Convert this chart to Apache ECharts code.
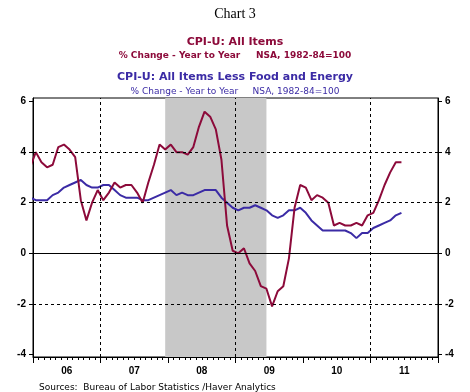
<!DOCTYPE html>
<html>
<head>
<meta charset="utf-8">
<script src="https://cdn.jsdelivr.net/npm/echarts@6/dist/echarts.min.js"></script>
<style>
html,body{margin:0;padding:0;background:#fff;}
#chart{width:470px;height:392px;}
</style>
</head>
<body>
<div id="chart"></div>
<script>
// Monthly data, Dec 2005 .. Jun 2011 (year-over-year % change)
const firstMonth = '2005-12';
const allItems = [3.4,
  4.0,3.6,3.4,3.5,4.2,4.3,4.1,3.8,2.1,1.3,2.0,2.5,
  2.1,2.4,2.8,2.6,2.7,2.7,2.4,2.0,2.8,3.5,4.3,4.1,
  4.3,4.0,4.0,3.9,4.2,5.0,5.6,5.4,4.9,3.7,1.1,0.1,
  0.0,0.2,-0.4,-0.7,-1.3,-1.4,-2.1,-1.5,-1.3,-0.2,1.8,2.7,
  2.6,2.1,2.3,2.2,2.0,1.1,1.2,1.1,1.1,1.2,1.1,1.5,
  1.6,2.1,2.7,3.2,3.6,3.6];
const lessFoodEnergy = [2.2,
  2.1,2.1,2.1,2.3,2.4,2.6,2.7,2.8,2.9,2.7,2.6,2.6,
  2.7,2.7,2.5,2.3,2.2,2.2,2.2,2.1,2.1,2.2,2.3,2.4,
  2.5,2.3,2.4,2.3,2.3,2.4,2.5,2.5,2.5,2.2,2.0,1.8,
  1.7,1.8,1.8,1.9,1.8,1.7,1.5,1.4,1.5,1.7,1.7,1.8,
  1.6,1.3,1.1,0.9,0.9,0.9,0.9,0.9,0.8,0.6,0.8,0.8,
  1.0,1.1,1.2,1.3,1.5,1.6];
const years = [2006, 2007, 2008, 2009, 2010, 2011];
const yearLabels = ['06', '07', '08', '09', '10', '11'];
const yTicks = [-4, -2, 0, 2, 4, 6];
const dashedY = [4, 2, -2];
const zeroY = [0];
const dashedYears = [2007, 2009, 2011];
const recession = ['2007-12', '2009-06'];

const baseYear = years[0];
function monthIndex(s) { const p = s.split('-'); return (+p[0] - baseYear) * 12 + (+p[1] - 1); }
const startIdx = monthIndex(firstMonth);
const toPts = arr => arr.map((v, i) => [startIdx + i + 0.5, v]);
const xMax = years.length * 12;
const yearTicks = [];
for (let i = 0; i <= years.length; i++) yearTicks.push(i * 12);
const monthTicks = [];
for (let i = 0; i <= xMax; i++) monthTicks.push(i);
const labelPos = years.map((y, i) => i * 12 + 6);

const red = '#8C0A3A', blue = '#3B2BA5';
const dash = [3, 3];
const sans = 'DejaVu Sans';
const chart = echarts.init(document.getElementById('chart'), null, {renderer: 'canvas'});
chart.setOption({
  animation: false,
  backgroundColor: '#fff',
  title: [
    {text: 'Chart 3', left: 'center', top: 2, textStyle: {fontFamily: 'Liberation Serif', fontSize: 14, fontWeight: 'normal', color: '#000'}},
    {text: 'CPI-U: All Items', left: 'center', top: 32, textStyle: {fontFamily: sans, fontSize: 11, fontWeight: 'bold', color: red}},
    {text: '% Change - Year to Year     NSA, 1982-84=100', left: 'center', top: 46, textStyle: {fontFamily: sans, fontSize: 9, fontWeight: 'bold', color: red}},
    {text: 'CPI-U: All Items Less Food and Energy', left: 'center', top: 67, textStyle: {fontFamily: sans, fontSize: 11, fontWeight: 'bold', color: blue}},
    {text: '% Change - Year to Year     NSA, 1982-84=100', left: 'center', top: 82, textStyle: {fontFamily: sans, fontSize: 9, fontWeight: 'normal', color: blue}},
    {text: 'Sources:  Bureau of Labor Statistics /Haver Analytics', left: 34, top: 378, textStyle: {fontFamily: sans, fontSize: 9, fontWeight: 'normal', color: '#000'}}
  ],
  grid: {left: 33, right: 32, top: 98, bottom: 35, show: true, borderColor: '#000', borderWidth: 1, backgroundColor: 'transparent'},
  xAxis: [
    {type: 'value', min: 0, max: xMax, position: 'bottom',
     axisLine: {show: true, onZero: false, lineStyle: {color: '#000', width: 1}},
     axisTick: {show: true, customValues: yearTicks, length: 6, lineStyle: {color: '#000'}},
     axisLabel: {show: true, customValues: labelPos, margin: 9, fontFamily: 'Liberation Sans', fontSize: 10, fontWeight: 'bold', color: '#000',
       formatter: v => yearLabels[Math.round((v - 6) / 12)]},
     splitLine: {show: false}},
    {type: 'value', min: 0, max: xMax, position: 'bottom',
     axisLine: {show: false, onZero: false},
     axisTick: {show: true, customValues: monthTicks, length: 3, lineStyle: {color: '#000'}},
     axisLabel: {show: false}, splitLine: {show: false}}
  ],
  yAxis: [
    {type: 'value', min: -4.1, max: 6.14, position: 'left',
     axisLine: {show: true, onZero: false, lineStyle: {color: '#000'}},
     axisTick: {show: true, customValues: yTicks, length: 4, lineStyle: {color: '#000'}},
     axisLabel: {customValues: yTicks, margin: 7, fontFamily: 'Liberation Sans', fontSize: 10, fontWeight: 'bold', color: '#000'},
     splitLine: {show: false}},
    {type: 'value', min: -4.1, max: 6.14, position: 'right',
     axisLine: {show: true, onZero: false, lineStyle: {color: '#000'}},
     axisTick: {show: true, customValues: yTicks, length: 4, lineStyle: {color: '#000'}},
     axisLabel: {customValues: yTicks, margin: 7, fontFamily: 'Liberation Sans', fontSize: 10, fontWeight: 'bold', color: '#000'},
     splitLine: {show: false}}
  ],
  series: [
    {type: 'line', data: [], z: 1, silent: true,
     markArea: {silent: true, itemStyle: {color: '#C8C8C8'},
       data: [[{xAxis: monthIndex(recession[0]) + 0.5}, {xAxis: monthIndex(recession[1]) + 0.5}]]}},
    {type: 'line', data: [], z: 2, silent: true,
     markLine: {silent: true, symbol: ['none', 'none'], label: {show: false}, animation: false,
       data: [].concat(
         dashedY.map(v => ({yAxis: v, lineStyle: {color: '#000', width: 1, type: dash}})),
         zeroY.map(v => ({yAxis: v, lineStyle: {color: '#000', width: 1, type: 'solid'}})),
         dashedYears.map(y => ({xAxis: (y - baseYear) * 12, lineStyle: {color: '#000', width: 1, type: dash}}))
       )}},
    {name: 'CPI-U: All Items Less Food and Energy', type: 'line', data: toPts(lessFoodEnergy), z: 3,
     showSymbol: false, lineStyle: {color: blue, width: 2}, clip: true},
    {name: 'CPI-U: All Items', type: 'line', data: toPts(allItems), z: 4,
     showSymbol: false, lineStyle: {color: red, width: 2}, clip: true}
  ]
});
</script>
</body>
</html>
